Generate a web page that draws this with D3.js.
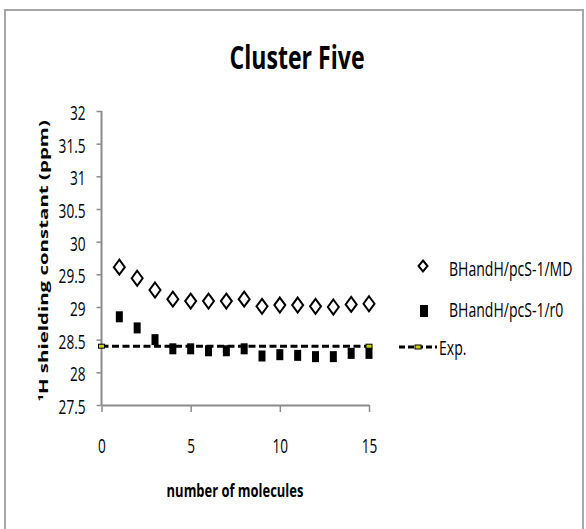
<!DOCTYPE html>
<html>
<head>
<meta charset="utf-8">
<script src="https://cdn.jsdelivr.net/npm/d3@7"></script>
<style>
  html, body { margin: 0; padding: 0; background: #fff; }
  svg { display: block; }
  text { font-family: "Open Sans", "Liberation Sans", sans-serif; fill: #000; }
</style>
</head>
<body>
<svg id="chart" width="586" height="529"></svg>
<script>
// number of molecules in the cluster
const molecules = [1, 2, 3, 4, 5, 6, 7, 8, 9, 10, 11, 12, 13, 14, 15];
// 1H shielding constants (ppm)
const seriesMD = [29.61, 29.44, 29.26, 29.12, 29.09, 29.09, 29.09, 29.12, 29.01, 29.03, 29.03, 29.01, 29.0, 29.04, 29.05];
const seriesR0 = [28.85, 28.68, 28.50, 28.36, 28.36, 28.33, 28.33, 28.36, 28.25, 28.27, 28.26, 28.24, 28.24, 28.29, 28.29];
const expX = [0, 15];
const expValue = 28.4;
const xTickValues = [0, 5, 10, 15];
const yTickValues = [27.5, 28, 28.5, 29, 29.5, 30, 30.5, 31, 31.5, 32];
const seriesNames = ["BHandH/pcS-1/MD", "BHandH/pcS-1/r0", "Exp."];

const svg = d3.select("#chart");

// squeeze text along its own direction, keeping its anchor point in place
function condense(sel, k) {
  sel.each(function () {
    const t = d3.select(this);
    const tx = +t.attr("x") || 0, ty = +t.attr("y") || 0;
    const base = t.attr("transform") || "";
    t.attr("x", 0).attr("y", 0)
      .attr("transform", `${base} translate(${tx},${ty}) scale(${k},1)`.trim());
  });
}

// outer frame
svg.append("rect")
  .attr("x", 5).attr("y", 10).attr("width", 578).attr("height", 540)
  .attr("fill", "none").attr("stroke", "#a6a6a6").attr("stroke-width", 2);

const x = d3.scaleLinear().domain([0, 15]).range([101.5, 369]);
const y = d3.scaleLinear().domain([27.5, 32]).range([405, 111]);

// title
const title = svg.append("text")
  .attr("x", 297).attr("y", 69)
  .attr("text-anchor", "middle")
  .attr("font-weight", "bold").attr("font-size", 33)
  .text("Cluster Five");
condense(title, 0.70);

// axes
const axisColor = "#8c8c8c";
const gy = svg.append("g").attr("transform", "translate(101.5,0)")
  .call(d3.axisLeft(y).tickValues(yTickValues).tickSize(5).tickPadding(11)
    .tickFormat(d => String(d)));
const gx = svg.append("g").attr("transform", "translate(0,405)")
  .call(d3.axisBottom(x).tickValues(xTickValues).tickSize(7).tickSizeOuter(0));

[gx, gy].forEach(g => {
  g.select(".domain").attr("stroke", axisColor).attr("stroke-width", 2);
  g.selectAll(".tick line").attr("stroke", axisColor).attr("stroke-width", 1.5);
  g.selectAll("text").attr("font-family", "\"Open Sans\", sans-serif").attr("font-size", 20).attr("fill", "#000");
});
gy.select(".domain").attr("d", `M0,${y(27.5)}V${y(32)}`);
gy.selectAll(".tick text").attr("dy", "0.42em");
gx.selectAll(".tick text").attr("y", 48).attr("dy", 0);
condense(gy.selectAll(".tick text"), 0.68);
condense(gx.selectAll(".tick text"), 0.68);

// axis titles
const xTitle = svg.append("text")
  .attr("x", 235).attr("y", 497)
  .attr("text-anchor", "middle")
  .attr("font-weight", "bold").attr("font-size", 18)
  .text("number of molecules");
condense(xTitle, 0.72);

const yTitle = svg.append("text")
  .attr("transform", "translate(48,261) rotate(-90)")
  .attr("text-anchor", "middle")
  .attr("font-weight", "bold").attr("font-size", 11.5)
  .text("¹H shielding constant (ppm)");
condense(yTitle, 282 / yTitle.node().getComputedTextLength());

// marker shapes
const diamond = (cx, cy, w, h) => `M${cx},${cy - h / 2}L${cx + w / 2},${cy}L${cx},${cy + h / 2}L${cx - w / 2},${cy}Z`;

const plot = svg.append("g");

// experimental reference line
plot.append("line")
  .attr("x1", x(expX[0])).attr("x2", x(expX[1]))
  .attr("y1", y(expValue)).attr("y2", y(expValue))
  .attr("stroke", "#000").attr("stroke-width", 3)
  .attr("stroke-dasharray", "7,3.5");

// r0 series: filled squares
plot.selectAll("rect.r0").data(molecules).join("rect")
  .attr("class", "r0")
  .attr("x", d => x(d) - 3.5).attr("y", (d, i) => y(seriesR0[i]) - 5.5)
  .attr("width", 7).attr("height", 11)
  .attr("fill", "#000");

// exp end markers
plot.selectAll("rect.exp").data(expX).join("rect")
  .attr("class", "exp")
  .attr("x", d => x(d) - 3).attr("y", y(expValue) - 2)
  .attr("width", 6).attr("height", 4)
  .attr("fill", "#c8d400").attr("stroke", "#000").attr("stroke-width", 1);

// MD series: open diamonds
plot.selectAll("path.md").data(molecules).join("path")
  .attr("class", "md")
  .attr("d", (d, i) => diamond(x(d), y(seriesMD[i]), 11, 15))
  .attr("fill", "#fff").attr("stroke", "#000").attr("stroke-width", 2);

// legend
const legend = svg.append("g");
legend.append("path")
  .attr("d", diamond(423, 266, 9, 11))
  .attr("fill", "#fff").attr("stroke", "#000").attr("stroke-width", 2);
legend.append("rect")
  .attr("x", 420).attr("y", 305).attr("width", 8).attr("height", 12)
  .attr("fill", "#000");
legend.append("line")
  .attr("x1", 399).attr("x2", 437).attr("y1", 347).attr("y2", 347)
  .attr("stroke", "#000").attr("stroke-width", 3).attr("stroke-dasharray", "6,3");
legend.append("rect")
  .attr("x", 415).attr("y", 345).attr("width", 6).attr("height", 4)
  .attr("fill", "#c8d400").attr("stroke", "#000").attr("stroke-width", 1);

const legendY = [276, 317, 355];
const legendX = [449, 449, 439];
const legendText = legend.selectAll("text.lbl").data(seriesNames).join("text")
  .attr("class", "lbl")
  .attr("x", (d, i) => legendX[i]).attr("y", (d, i) => legendY[i])
  .attr("font-size", 19.5)
  .text(d => d);
condense(legendText, 0.72);
</script>
</body>
</html>
